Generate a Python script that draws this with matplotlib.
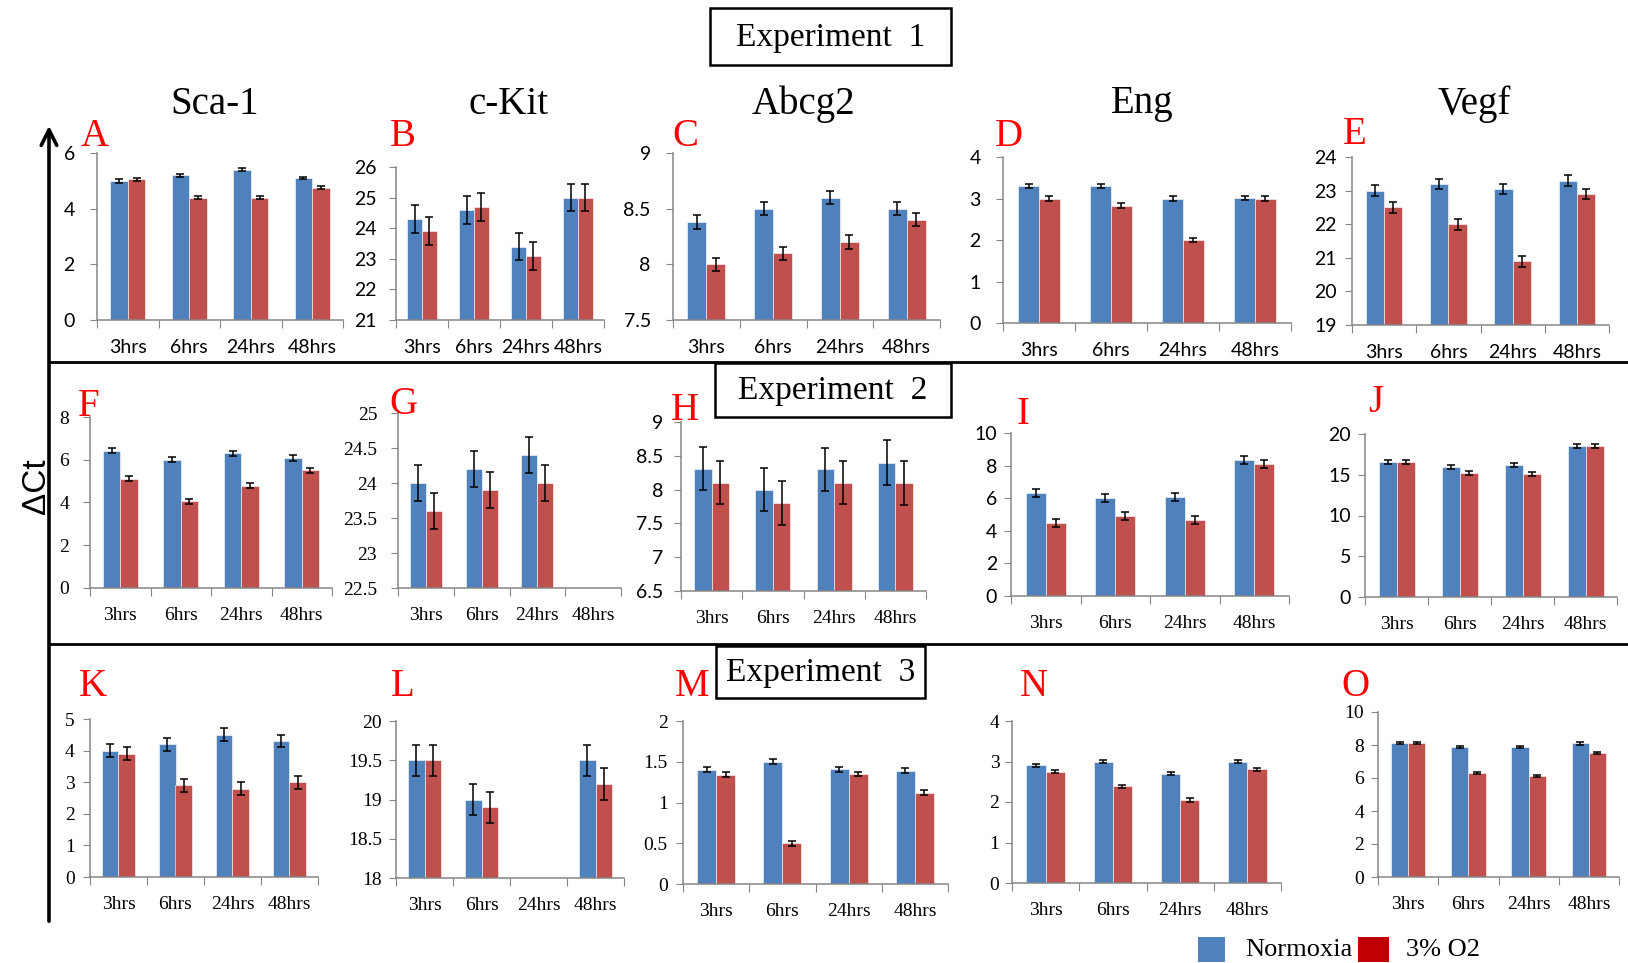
import numpy as np
import matplotlib.pyplot as plt
from matplotlib.patches import Rectangle
from matplotlib.ticker import FixedLocator, FuncFormatter

W, H = 1628, 963
BLUE = "#4F81BD"
RED = "#C0504D"
LEGEND_RED = "#C00000"
GRAY = "#868686"
SANS = "Lato"
SERIF = "Liberation Serif"

hours = ["3hrs", "6hrs", "24hrs", "48hrs"]
genes = ["Sca-1", "c-Kit", "Abcg2", "Eng", "Vegf"]
series = ["Normoxia", "3% O2"]
nan = np.nan

# Experiment 1 (delta Ct, mean and error)
sca1_e1_norm = [5.0, 5.2, 5.4, 5.1]
sca1_e1_hyp = [5.05, 4.4, 4.4, 4.75]
sca1_e1_err = [0.06, 0.05, 0.05, 0.05]
ckit_e1_norm = [24.3, 24.6, 23.4, 25.0]
ckit_e1_hyp = [23.9, 24.7, 23.1, 25.0]
ckit_e1_err = [0.45, 0.45, 0.45, 0.45]
abcg2_e1_norm = [8.38, 8.5, 8.6, 8.5]
abcg2_e1_hyp = [8.0, 8.1, 8.2, 8.4]
abcg2_e1_err = [0.06, 0.06, 0.06, 0.06]
eng_e1_norm = [3.3, 3.3, 3.0, 3.02]
eng_e1_hyp = [3.0, 2.83, 2.0, 3.0]
eng_e1_err = [0.05, 0.05, 0.05, 0.05]
vegf_e1_norm = [23.0, 23.2, 23.05, 23.3]
vegf_e1_hyp = [22.5, 22.0, 20.9, 22.9]
vegf_e1_err = [0.16, 0.16, 0.16, 0.15]

# Experiment 2
sca1_e2_norm = [6.43, 6.0, 6.3, 6.08]
sca1_e2_hyp = [5.12, 4.05, 4.78, 5.5]
sca1_e2_err = [0.12, 0.12, 0.12, 0.12]
ckit_e2_norm = [24.0, 24.2, 24.4, nan]
ckit_e2_hyp = [23.6, 23.9, 24.0, nan]
ckit_e2_err = [0.26, 0.26, 0.26, 0.26]
abcg2_e2_norm = [8.31, 8.0, 8.3, 8.4]
abcg2_e2_hyp = [8.1, 7.8, 8.1, 8.1]
abcg2_e2_err = [0.32, 0.32, 0.32, 0.33]
eng_e2_norm = [6.32, 6.02, 6.08, 8.36]
eng_e2_hyp = [4.48, 4.93, 4.66, 8.09]
eng_e2_err = [0.25, 0.25, 0.25, 0.25]
vegf_e2_norm = [16.6, 16.0, 16.2, 18.5]
vegf_e2_hyp = [16.6, 15.2, 15.07, 18.5]
vegf_e2_err = [0.25, 0.25, 0.25, 0.25]

# Experiment 3
sca1_e3_norm = [4.0, 4.2, 4.5, 4.3]
sca1_e3_hyp = [3.9, 2.9, 2.8, 3.0]
sca1_e3_err = [0.2, 0.2, 0.2, 0.2]
ckit_e3_norm = [19.5, 19.0, nan, 19.5]
ckit_e3_hyp = [19.5, 18.9, nan, 19.2]
ckit_e3_err = [0.2, 0.2, 0.2, 0.2]
abcg2_e3_norm = [1.4, 1.5, 1.41, 1.39]
abcg2_e3_hyp = [1.34, 0.5, 1.35, 1.12]
abcg2_e3_err = [0.03, 0.03, 0.03, 0.03]
eng_e3_norm = [2.91, 3.0, 2.7, 3.0]
eng_e3_hyp = [2.75, 2.39, 2.05, 2.81]
eng_e3_err = [0.04, 0.04, 0.04, 0.04]
vegf_e3_norm = [8.1, 7.9, 7.9, 8.1]
vegf_e3_hyp = [8.1, 6.33, 6.15, 7.52]
vegf_e3_err = [0.06, 0.06, 0.06, 0.08]

fig = plt.figure(figsize=(W / 100, H / 100), dpi=100)


def panel(box, norm, hyp, err, yticks, tick_font, cat_font, ypad=9):
    x0, y0, x1, y1 = box
    ax = fig.add_axes([x0 / W, 1 - y1 / H, (x1 - x0) / W, (y1 - y0) / H])
    ax.set_facecolor("none")
    pos = np.arange(len(hours)) + 0.5
    w = 1 / 3.5
    base = yticks[0]
    for off, vals, col in [(-w / 2, norm, BLUE), (w / 2, hyp, RED)]:
        vals = np.asarray(vals, dtype=float)
        ax.bar(pos + off, vals - base, w, bottom=base, color=col,
               edgecolor="white", linewidth=0.4, zorder=2)
        ax.errorbar(pos + off, vals, yerr=err, fmt="none", ecolor="black",
                    elinewidth=1.1, capsize=2.8, capthick=1.1, zorder=3)
    ax.set_xlim(0, len(hours))
    ax.set_ylim(yticks[0], yticks[-1])
    ax.xaxis.set_major_locator(FixedLocator(np.arange(len(hours) + 1)))
    ax.xaxis.set_minor_locator(FixedLocator(pos))
    ax.set_xticklabels([], minor=False)
    ax.set_xticklabels(hours, minor=True, family=cat_font, fontsize=14)
    ax.tick_params(axis="x", which="major", length=6, color=GRAY, direction="out")
    ax.tick_params(axis="x", which="minor", length=0, pad=14)
    ax.set_yticks(yticks)
    ax.yaxis.set_major_formatter(FuncFormatter(lambda v, p: f"{v:g}"))
    ax.tick_params(axis="y", length=5, color=GRAY, pad=ypad)
    for lab in ax.get_yticklabels():
        lab.set_family(tick_font)
        lab.set_fontsize(14)
    for s in ["top", "right"]:
        ax.spines[s].set_visible(False)
    for s in ["left", "bottom"]:
        ax.spines[s].set_color(GRAY)
        ax.spines[s].set_linewidth(1.1)
    return ax


# row 1
panel((97, 153, 343, 320), sca1_e1_norm, sca1_e1_hyp, sca1_e1_err, [0, 2, 4, 6], SANS, SANS, 11)
panel((396, 167, 604, 320), ckit_e1_norm, ckit_e1_hyp, ckit_e1_err, [21, 22, 23, 24, 25, 26], SANS, SANS, 9)
panel((673, 153, 940, 320), abcg2_e1_norm, abcg2_e1_hyp, abcg2_e1_err, [7.5, 8, 8.5, 9], SANS, SANS, 11)
panel((1003, 157, 1291, 323), eng_e1_norm, eng_e1_hyp, eng_e1_err, [0, 1, 2, 3, 4], SANS, SANS, 11)
panel((1352, 157, 1609, 325), vegf_e1_norm, vegf_e1_hyp, vegf_e1_err, [19, 20, 21, 22, 23, 24], SANS, SANS, 6)

# row 2
panel((90, 417, 332, 588), sca1_e2_norm, sca1_e2_hyp, sca1_e2_err, [0, 2, 4, 6, 8], SERIF, SERIF, 10)
panel((398, 413, 621, 588), ckit_e2_norm, ckit_e2_hyp, ckit_e2_err, [22.5, 23, 23.5, 24, 24.5, 25], SERIF, SERIF, 10)
panel((681, 422, 926, 591), abcg2_e2_norm, abcg2_e2_hyp, abcg2_e2_err, [6.5, 7, 7.5, 8, 8.5, 9], SANS, SERIF, 8)
panel((1011, 433, 1289, 596), eng_e2_norm, eng_e2_hyp, eng_e2_err, [0, 2, 4, 6, 8, 10], SANS, SERIF, 5)
panel((1365, 434, 1617, 597), vegf_e2_norm, vegf_e2_hyp, vegf_e2_err, [0, 5, 10, 15, 20], SANS, SERIF, 5)

# row 3
panel((90, 719, 318, 877), sca1_e3_norm, sca1_e3_hyp, sca1_e3_err, [0, 1, 2, 3, 4, 5], SERIF, SERIF, 6)
panel((396, 721, 624, 878), ckit_e3_norm, ckit_e3_hyp, ckit_e3_err, [18, 18.5, 19, 19.5, 20], SERIF, SERIF, 5)
panel((683, 721, 948, 884), abcg2_e3_norm, abcg2_e3_hyp, abcg2_e3_err, [0, 0.5, 1, 1.5, 2], SERIF, SERIF, 6)
panel((1012, 721, 1281, 883), eng_e3_norm, eng_e3_hyp, eng_e3_err, [0, 1, 2, 3, 4], SERIF, SERIF, 4)
panel((1378, 712, 1619, 877), vegf_e3_norm, vegf_e3_hyp, vegf_e3_err, [0, 2, 4, 6, 8, 10], SERIF, SERIF, 5)

# overlay in pixel coordinates for frame, labels and legend
ov = fig.add_axes([0, 0, 1, 1])
ov.set_xlim(0, W)
ov.set_ylim(H, 0)
ov.axis("off")
ov.set_facecolor("none")

ov.annotate("", xy=(49, 123), xytext=(49, 924),
            arrowprops=dict(arrowstyle="->", lw=2.6, color="black", mutation_scale=28))
for yl in [362, 644]:
    ov.plot([49, W], [yl, yl], color="black", lw=2)

ov.text(36, 486, "ΔCt", rotation=90, ha="center", va="center",
        family="Liberation Sans", fontsize=24)

for gx, g in zip([215, 508, 803, 1142, 1474], genes):
    ov.text(gx, 104, g, ha="center", va="center", family=SERIF, fontsize=28)

letters = {"A": (95, 137), "B": (403, 137), "C": (685, 137), "D": (1009, 137), "E": (1355, 135),
           "F": (89, 407), "G": (403, 405), "H": (685, 410), "I": (1023, 415), "J": (1376, 403),
           "K": (93, 686), "L": (403, 687), "M": (692, 687), "N": (1034, 687), "O": (1355, 687)}
for let, (lx, ly) in letters.items():
    ov.text(lx, ly, let, ha="center", va="center", color="red", family=SERIF, fontsize=28)

for (bx0, by0, bx1, by1), label in [((710, 8, 951, 65), "Experiment  1"),
                                     ((715, 363, 951, 417), "Experiment  2"),
                                     ((716, 646, 925, 698), "Experiment  3")]:
    ov.add_patch(Rectangle((bx0, by0), bx1 - bx0, by1 - by0, facecolor="white",
                           edgecolor="black", lw=1.8, zorder=5))
    ov.text((bx0 + bx1) / 2, (by0 + by1) / 2 + 1, label, ha="center", va="center",
            family=SERIF, fontsize=24, zorder=6)

# legend
ov.add_patch(Rectangle((1198, 937), 27, 25, facecolor=BLUE, edgecolor="none"))
ov.text(1245, 950, series[0], ha="left", va="center", family=SERIF, fontsize=19)
ov.add_patch(Rectangle((1358, 937), 31, 25, facecolor=LEGEND_RED, edgecolor="none"))
ov.text(1406, 950, series[1], ha="left", va="center", family=SERIF, fontsize=19)

fig.savefig("out.png", dpi=100)
